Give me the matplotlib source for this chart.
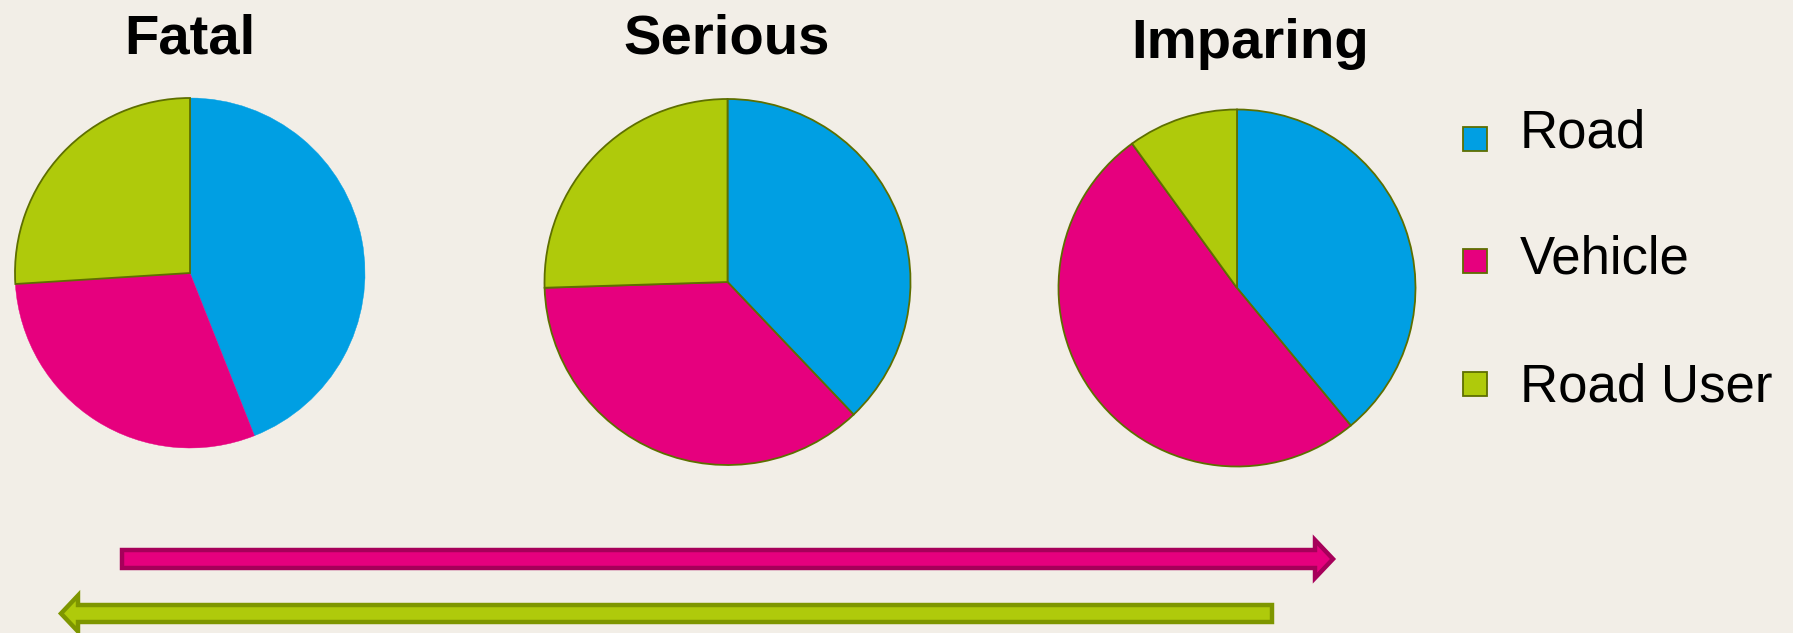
import matplotlib.pyplot as plt
from matplotlib.patches import Polygon, Rectangle

# canvas in pixels (dpi 100)
W, H = 1793, 633
bg = '#F2EEE7'
edge = '#5E6F00'

categories = ['Road', 'Vehicle', 'Road User']
colors = ['#009FE3', '#E6007E', '#AFCA0B']
titles = ['Fatal', 'Serious', 'Imparing']
fatal = [44, 30, 26]
serious = [37.9, 36.6, 25.5]
imparing = [39, 51, 10]
shares = [fatal, serious, imparing]

# pixel centre / radius of each pie, title centre x and baseline
pie_pos = [(190, 273, 175), (727.5, 282, 183), (1237, 288, 178.5)]
title_pos = [(190, 53), (726.5, 53), (1250, 58)]

fig = plt.figure(figsize=(W / 100, H / 100), dpi=100)
fig.patch.set_facecolor(bg)

# overlay axes in pixel coordinates for arrows and legend
ov = fig.add_axes([0, 0, 1, 1])
ov.set_xlim(0, W)
ov.set_ylim(H, 0)
ov.axis('off')
ov.set_facecolor('none')

m = 1.02
for i, (vals, (cx, cy, r)) in enumerate(zip(shares, pie_pos)):
    ax = fig.add_axes([(cx - r * m) / W, 1 - (cy + r * m) / H, 2 * r * m / W, 2 * r * m / H])
    wedges, _ = ax.pie(vals, colors=colors, startangle=90, counterclock=False,
                       wedgeprops=dict(edgecolor=edge, linewidth=1.3))
    if i == 0:
        # fatal pie: only the road user slice is outlined
        for w in wedges[:2]:
            w.set_edgecolor(w.get_facecolor())
            w.set_linewidth(0.3)
    ax.set_xlim(-m, m)
    ax.set_ylim(-m, m)
    ax.axis('off')
    tx, tb = title_pos[i]
    fig.text(tx / W, 1 - tb / H, titles[i], ha='center', va='baseline',
             fontsize=40.5, fontweight='bold', family='Liberation Sans')

# legend
sq_top = [127, 249, 372]
txt_base = [147, 273, 402]
for lab, col, st, tb in zip(categories, colors, sq_top, txt_base):
    ov.add_patch(Rectangle((1463, st), 24, 24, facecolor=col, edgecolor=edge, linewidth=1.3))
    ov.text(1520, tb, lab, ha='left', va='baseline', fontsize=38, family='Liberation Sans')


def block_arrow(x_tail, x_neck, x_tip, yc, body_hw, head_hw):
    return [(x_tail, yc - body_hw), (x_neck, yc - body_hw), (x_neck, yc - head_hw),
            (x_tip, yc), (x_neck, yc + head_hw), (x_neck, yc + body_hw),
            (x_tail, yc + body_hw)]


# pink arrow to the right, green arrow to the left
ov.add_patch(Polygon(block_arrow(122, 1315, 1333, 559, 9, 19), closed=True,
                     facecolor='#E6007E', edgecolor='#A6005A', linewidth=3.2,
                     joinstyle='miter'))
ov.add_patch(Polygon(block_arrow(1272, 78, 61, 613.5, 8.5, 18), closed=True,
                     facecolor='#AFCA0B', edgecolor='#7E9600', linewidth=3.2,
                     joinstyle='miter'))

plt.savefig('out.png', dpi=100, facecolor=bg)
